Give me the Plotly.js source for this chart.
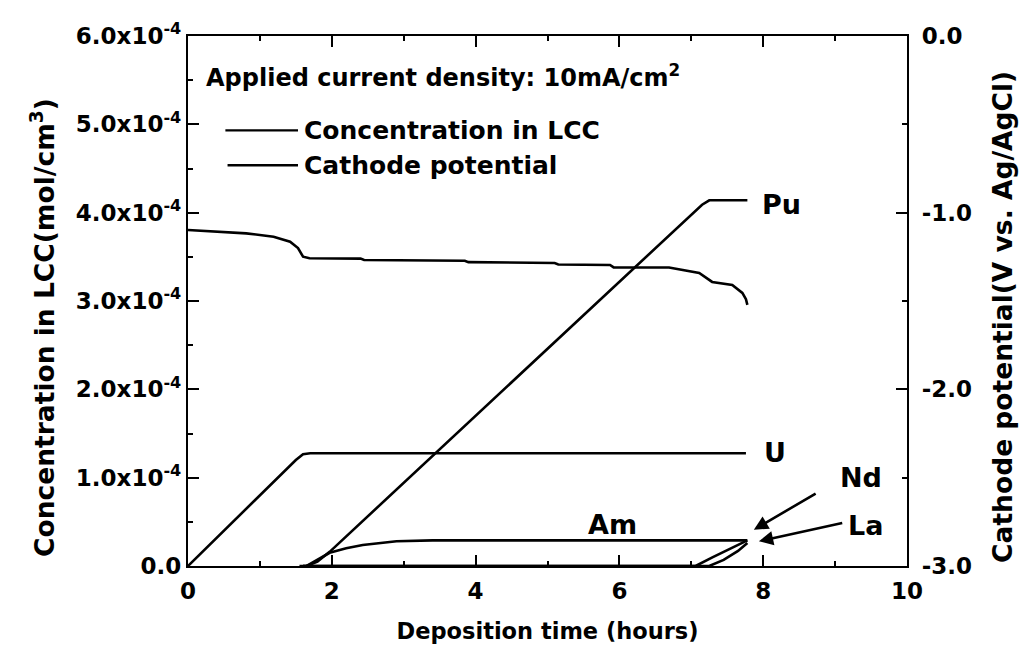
<!DOCTYPE html>
<html>
<head>
<meta charset="utf-8">
<script src="https://cdn.plot.ly/plotly-3.0.1.min.js"></script>
<style>html,body{margin:0;padding:0;background:#fff;}#chart{width:1027px;height:662px;}</style>
</head>
<body>
<div id="chart"></div>
<script>
// Concentration in LCC (mol/cm3), in units of 1e-4
var uTime = [0, 1.5, 1.6, 1.7, 7.76];
var uConc = [0, 1.2, 1.265, 1.276, 1.276];

var puTime = [1.55, 1.65, 1.8, 1.97, 7.15, 7.25, 7.78];
var puConc = [0, 0, 0.05, 0.16, 4.09, 4.14, 4.14];

var amTime = [1.65, 1.8, 1.97, 2.2, 2.43, 2.9, 3.4, 7.78];
var amConc = [0, 0.07, 0.15, 0.2, 0.238, 0.28, 0.29, 0.29];

var ndTime = [1.6, 7.06, 7.3, 7.55, 7.78];
var ndConc = [0, 0, 0.1, 0.2, 0.29];

var laTime = [1.6, 7.25, 7.45, 7.65, 7.78];
var laConc = [0, 0, 0.07, 0.17, 0.26];

// Cathode potential (V vs. Ag/AgCl)
var potTime = [0, 0.4, 0.81, 1.19, 1.42, 1.53, 1.6, 1.69, 2.1, 2.4, 2.45, 3.85, 3.9, 5.1, 5.15, 5.87, 5.92, 6.69, 7.11, 7.29, 7.57, 7.71, 7.76, 7.78];
var potV = [-1.098, -1.108, -1.117, -1.136, -1.164, -1.2, -1.249, -1.258, -1.258, -1.26, -1.268, -1.272, -1.28, -1.285, -1.293, -1.296, -1.31, -1.31, -1.341, -1.392, -1.409, -1.454, -1.49, -1.522];

var concTickVals = [0, 1, 2, 3, 4, 5, 6];
var concTickText = ['0.0', '1.0x10<sup>-4</sup>', '2.0x10<sup>-4</sup>', '3.0x10<sup>-4</sup>', '4.0x10<sup>-4</sup>', '5.0x10<sup>-4</sup>', '6.0x10<sup>-4</sup>'];
var potTickVals = [-3, -2, -1, 0];
var potTickText = ['-3.0', '-2.0', '-1.0', '0.0'];
var timeTickVals = [0, 2, 4, 6, 8, 10];

var seriesLabels = ['Pu', 'U', 'Am', 'Nd', 'La'];
var titles = {
  x: 'Deposition time (hours)',
  yLeft: 'Concentration in LCC(mol/cm<sup>3</sup>)',
  yRight: 'Cathode potential(V vs. Ag/AgCl)'
};

var FONT = 'DejaVu Sans';
var LW = 2.6;

function f(size) { return {family: FONT, size: size, color: '#000', weight: 'bold'}; }

function concTrace(x, y, name) {
  return {x: x, y: y, name: name, type: 'scatter', mode: 'lines',
    line: {color: '#000', width: LW}, xaxis: 'x', yaxis: 'y', showlegend: false};
}

var traces = [
  concTrace(uTime, uConc, 'U'),
  concTrace(puTime, puConc, 'Pu'),
  concTrace(amTime, amConc, 'Am'),
  concTrace(ndTime, ndConc, 'Nd'),
  concTrace(laTime, laConc, 'La'),
  {x: potTime, y: potV, name: 'Cathode potential', type: 'scatter', mode: 'lines',
    line: {color: '#000', width: LW}, xaxis: 'x', yaxis: 'y2', showlegend: false}
];

var minorTicks = {ticks: 'inside', ticklen: 5, tickwidth: 2, tickcolor: '#000'};
var axisCommon = {
  showline: true, linecolor: '#000', linewidth: 2.2,
  ticks: 'inside', ticklen: 11, tickwidth: 2, tickcolor: '#000',
  showgrid: false, zeroline: false,
  tickfont: f(23)
};

var layout = {
  width: 1027, height: 662,
  margin: {l: 188, r: 120, t: 36, b: 96, pad: 0},
  paper_bgcolor: '#fff', plot_bgcolor: '#fff',
  showlegend: false,
  font: {family: FONT, color: '#000'},
  xaxis: Object.assign({}, axisCommon, {
    range: [0, 10], tickvals: timeTickVals, mirror: 'ticks', ticklabelstandoff: 3,
    minor: Object.assign({dtick: 1}, minorTicks),
    title: {text: titles.x, font: f(22.5), standoff: 21}
  }),
  yaxis: Object.assign({}, axisCommon, {
    range: [0, 6], tickvals: concTickVals, ticktext: concTickText,
    minor: Object.assign({dtick: 0.5}, minorTicks)
  }),
  yaxis2: Object.assign({}, axisCommon, {
    range: [-3, 0], tickvals: potTickVals, ticktext: potTickText,
    overlaying: 'y', side: 'right', ticklabelstandoff: 8,
    minor: Object.assign({dtick: 0.5}, minorTicks)
  }),
  shapes: [
    {type: 'line', xref: 'paper', yref: 'paper', x0: 0.052, x1: 0.153, y0: 0.822, y1: 0.822, line: {color: '#000', width: 2.4}},
    {type: 'line', xref: 'paper', yref: 'paper', x0: 0.055, x1: 0.153, y0: 0.756, y1: 0.756, line: {color: '#000', width: 2.4}}
  ],
  annotations: [
    {xref: 'paper', yref: 'paper', x: -0.2017, y: 0.451, xanchor: 'center', yanchor: 'middle', showarrow: false,
     textangle: -90, text: titles.yLeft, font: f(26.5)},
    {xref: 'paper', yref: 'paper', x: 1.1335, y: 0.47, xanchor: 'center', yanchor: 'middle', showarrow: false,
     textangle: -90, text: titles.yRight, font: f(26.5)},
    {xref: 'paper', yref: 'paper', x: 0.022, y: 0.925, xanchor: 'left', yanchor: 'middle', showarrow: false,
     text: 'Applied current density: 10mA/cm<sup>2</sup>', font: f(24)},
    {xref: 'paper', yref: 'paper', x: 0.158, y: 0.822, xanchor: 'left', yanchor: 'middle', showarrow: false,
     text: 'Concentration in LCC', font: f(25)},
    {xref: 'paper', yref: 'paper', x: 0.158, y: 0.756, xanchor: 'left', yanchor: 'middle', showarrow: false,
     text: 'Cathode potential', font: f(25)},
    {x: 8.26, y: 4.09, text: seriesLabels[0], showarrow: false, font: f(27)},
    {x: 8.17, y: 1.28, text: seriesLabels[1], showarrow: false, font: f(27)},
    {x: 5.9, y: 0.47, text: seriesLabels[2], showarrow: false, font: f(27)},
    {x: 9.36, y: 1.0, text: seriesLabels[3], showarrow: false, font: f(27)},
    {x: 9.42, y: 0.46, text: seriesLabels[4], showarrow: false, font: f(27)},
    {x: 7.87, y: 0.41, ax: 8.75, ay: 0.83, axref: 'x', ayref: 'y', text: '', showarrow: true,
     arrowhead: 2, arrowsize: 1.1, arrowwidth: 2.6, arrowcolor: '#000'},
    {x: 7.94, y: 0.28, ax: 9.12, ay: 0.49, axref: 'x', ayref: 'y', text: '', showarrow: true,
     arrowhead: 2, arrowsize: 1.1, arrowwidth: 2.6, arrowcolor: '#000'}
  ]
};

Plotly.newPlot('chart', traces, layout, {displayModeBar: false});
</script>
</body>
</html>
